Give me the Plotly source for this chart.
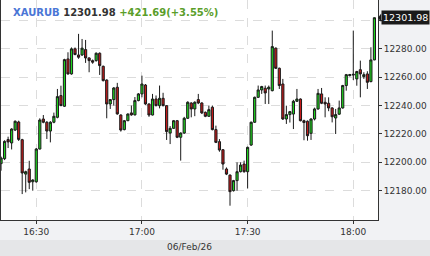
import pandas as pd
import plotly.graph_objects as go

symbol = "XAURUB"
change_abs = 421.69
change_pct = 3.55
start_time = "2026-02-06 16:20"
date_label = "06/Feb/26"

opens = [12199.0, 12202.5, 12216.0, 12213.6, 12222.7, 12228.4, 12215.9, 12191.6, 12195.2, 12186.2,
         12186.2, 12209.3, 12230.5, 12228.2, 12222.0, 12228.2, 12231.7, 12247.0, 12239.5, 12272.9,
         12262.3, 12280.0, 12275.7, 12275.7, 12279.5, 12273.6, 12271.7, 12271.7, 12276.9, 12267.7,
         12258.0, 12241.1, 12244.2, 12252.9, 12233.3, 12223.0, 12229.3, 12234.8, 12233.4, 12243.5,
         12248.2, 12254.5, 12241.1, 12233.3, 12244.6, 12239.9, 12245.1, 12239.9, 12220.6, 12223.9,
         12229.3, 12217.6, 12220.6, 12231.0, 12241.8, 12237.6, 12244.2, 12241.8, 12235.2, 12232.4,
         12238.8, 12223.0, 12214.5, 12208.8, 12195.2, 12190.9, 12179.9, 12187.0, 12193.3, 12198.7,
         12193.3, 12212.1, 12228.2, 12245.8, 12251.0, 12252.2, 12251.7, 12250.5, 12280.5, 12266.3,
         12255.2, 12230.5, 12233.6, 12234.0, 12243.0, 12244.6, 12229.3, 12228.9, 12220.4, 12230.5,
         12237.6, 12248.2, 12242.3, 12241.6, 12238.3, 12231.2, 12233.9, 12238.3, 12254.1, 12261.1,
         12261.5, 12258.8, 12265.3, 12260.4, 12262.3, 12256.9, 12272.2]
highs = [12204.0, 12215.5, 12218.0, 12224.0, 12229.5, 12229.3, 12216.5, 12194.0, 12201.0, 12188.0,
         12210.0, 12231.0, 12233.3, 12229.0, 12229.0, 12235.0, 12251.7, 12254.0, 12273.0, 12277.6,
         12281.0, 12281.0, 12290.6, 12287.0, 12286.3, 12274.0, 12272.5, 12277.5, 12277.5, 12268.2,
         12258.5, 12244.5, 12253.0, 12256.0, 12233.8, 12229.8, 12234.5, 12240.0, 12246.0, 12248.8,
         12261.1, 12255.2, 12241.5, 12248.2, 12247.1, 12254.1, 12249.0, 12240.3, 12225.5, 12229.8,
         12229.8, 12221.0, 12232.0, 12243.0, 12242.3, 12243.0, 12248.2, 12242.3, 12235.8, 12240.0,
         12240.0, 12225.8, 12216.3, 12209.3, 12196.3, 12191.3, 12187.5, 12199.9, 12199.9, 12201.1,
         12211.0, 12228.7, 12246.3, 12254.1, 12253.9, 12254.1, 12254.1, 12292.9, 12281.0, 12266.8,
         12258.8, 12239.9, 12236.2, 12244.0, 12251.7, 12245.0, 12230.0, 12229.5, 12231.0, 12238.5,
         12251.7, 12252.4, 12245.8, 12245.8, 12238.8, 12237.6, 12243.5, 12254.6, 12262.3, 12262.3,
         12292.9, 12264.5, 12271.7, 12263.5, 12264.2, 12281.1, 12302.2]
lows = [12194.0, 12201.5, 12210.0, 12209.0, 12222.0, 12215.0, 12177.5, 12178.7, 12181.0, 12179.9,
        12185.5, 12209.0, 12227.5, 12216.4, 12214.0, 12227.5, 12231.0, 12239.5, 12239.0, 12261.8,
        12261.8, 12275.5, 12273.0, 12275.0, 12270.1, 12263.5, 12269.5, 12271.0, 12261.6, 12257.0,
        12231.0, 12237.6, 12240.0, 12233.5, 12221.6, 12222.5, 12229.0, 12232.8, 12233.0, 12243.0,
        12245.8, 12240.5, 12232.0, 12233.0, 12239.5, 12238.0, 12239.5, 12215.7, 12212.8, 12223.5,
        12217.0, 12201.1, 12220.0, 12230.5, 12231.7, 12232.5, 12241.0, 12234.0, 12231.8, 12232.0,
        12222.5, 12213.5, 12207.4, 12194.7, 12190.9, 12169.3, 12179.3, 12179.9, 12192.8, 12192.6,
        12181.5, 12211.5, 12227.7, 12245.3, 12248.2, 12241.1, 12241.1, 12250.0, 12265.8, 12251.7,
        12229.8, 12227.0, 12228.0, 12223.4, 12242.5, 12228.8, 12215.5, 12215.2, 12215.7, 12229.5,
        12237.0, 12241.0, 12231.7, 12236.0, 12228.1, 12219.9, 12233.4, 12237.8, 12250.5, 12260.6,
        12258.0, 12254.0, 12245.8, 12258.8, 12251.7, 12256.4, 12272.0]
closes = [12203.0, 12214.7, 12214.3, 12223.4, 12228.9, 12216.1, 12192.4, 12193.3, 12185.8, 12187.4,
          12209.3, 12229.8, 12228.2, 12222.0, 12228.2, 12232.4, 12246.3, 12240.0, 12272.4, 12262.3,
          12280.0, 12276.0, 12274.1, 12280.5, 12273.6, 12271.7, 12270.6, 12276.9, 12268.2, 12257.6,
          12241.1, 12244.2, 12252.4, 12234.1, 12222.7, 12229.3, 12234.0, 12233.4, 12243.5, 12248.2,
          12255.2, 12241.1, 12233.3, 12244.6, 12239.9, 12245.1, 12239.9, 12221.6, 12223.9, 12229.3,
          12217.6, 12220.6, 12231.0, 12242.3, 12237.6, 12242.3, 12241.8, 12234.8, 12232.4, 12237.1,
          12223.0, 12214.0, 12208.6, 12198.7, 12191.6, 12179.2, 12187.0, 12193.3, 12198.0, 12193.3,
          12210.5, 12228.2, 12245.8, 12251.0, 12253.4, 12248.9, 12252.9, 12281.6, 12266.3, 12254.1,
          12230.5, 12233.6, 12235.7, 12243.0, 12244.6, 12229.3, 12228.0, 12218.7, 12230.5, 12237.6,
          12248.6, 12241.6, 12241.1, 12238.3, 12232.1, 12233.6, 12238.3, 12254.1, 12261.8, 12261.8,
          12262.0, 12264.0, 12262.3, 12261.8, 12256.4, 12272.2, 12301.98]

y_ticks = [12180, 12200, 12220, 12240, 12260, 12280, 12300]
y_range = [12159.2, 12314.5]
x_range = ["2026-02-06 16:19:59", "2026-02-06 18:07:01"]

times = pd.date_range(start_time, periods=len(closes), freq="min")
last = closes[-1]
# the last-price tag covers the tick label nearest to it
y_ticktext = [f"{v:.2f}" if abs(v - last) > 8 else "" for v in y_ticks]

FONT = "DejaVu Sans"
fig = go.Figure()
fig.add_trace(go.Candlestick(
    x=times, open=opens, high=highs, low=lows, close=closes,
    increasing=dict(fillcolor="#1fd41f", line=dict(color="#1a1a1a", width=1)),
    decreasing=dict(fillcolor="#c41a1a", line=dict(color="#1a1a1a", width=1)),
    whiskerwidth=0, hoverinfo="skip", showlegend=False,
))

title_html = (f"<b><span style='color:#4a76d6'>{symbol}</span> "
              f"<span style='color:#333333'>{last:.2f}</span> "
              f"<span style='color:#5a9e2a'>+{change_abs:.2f}(+{change_pct:.2f}%)</span></b>")

fig.update_layout(
    width=430, height=256,
    margin=dict(l=1, r=52, t=0, b=36),
    paper_bgcolor="#f1f2f4", plot_bgcolor="#ffffff",
    boxgap=0.12,
    font=dict(family=FONT, size=9, color="#333333"),
    xaxis=dict(
        type="date", range=x_range, rangeslider=dict(visible=False),
        dtick=30 * 60 * 1000, tick0="2026-02-06 16:30", tickformat="%H:%M",
        showgrid=True, gridcolor="#dcdcdc", griddash="dash", gridwidth=1,
        showline=True, linecolor="#333333", linewidth=1,
        ticks="outside", ticklen=3, tickcolor="#333333",
        tickfont=dict(family=FONT, size=9, color="#333333"),
        zeroline=False,
    ),
    yaxis=dict(
        side="right", range=y_range, tickvals=y_ticks, ticktext=y_ticktext,
        showgrid=True, gridcolor="#dcdcdc", griddash="dash", gridwidth=1,
        showline=True, mirror=True, linecolor="#333333", linewidth=1,
        ticks="outside", ticklen=3, tickcolor="#333333",
        tickfont=dict(family=FONT, size=9, color="#333333"),
        zeroline=False,
    ),
    shapes=[
        dict(type="rect", xref="paper", yref="paper", x0=-0.01, x1=1.15,
             y0=-0.0909, y1=-0.2, fillcolor="#e5e6e8", line=dict(width=0), layer="below"),
        dict(type="path", xref="paper", yref="y",
             path=f"M 1.0,{last} L 1.0085,{last + 3.0} L 1.0085,{last - 3.0} Z",
             fillcolor="#1a1a1a", line=dict(width=0)),
    ],
    annotations=[
        dict(text=title_html, xref="paper", yref="paper", x=0.027, y=0.945,
             xanchor="left", yanchor="middle", showarrow=False,
             font=dict(family=FONT, size=10)),
        dict(text=f"{last:.2f}", xref="paper", yref="y", x=1.0085, y=last,
             xanchor="left", yanchor="middle", showarrow=False,
             bgcolor="#1a1a1a", borderpad=1,
             font=dict(family=FONT, size=9.5, color="#ffffff")),
        dict(text=date_label, xref="paper", yref="paper", x=0.5, y=-0.123,
             xanchor="center", yanchor="middle", showarrow=False,
             font=dict(family=FONT, size=9, color="#333333")),
    ],
)

fig.write_html("out.html")
